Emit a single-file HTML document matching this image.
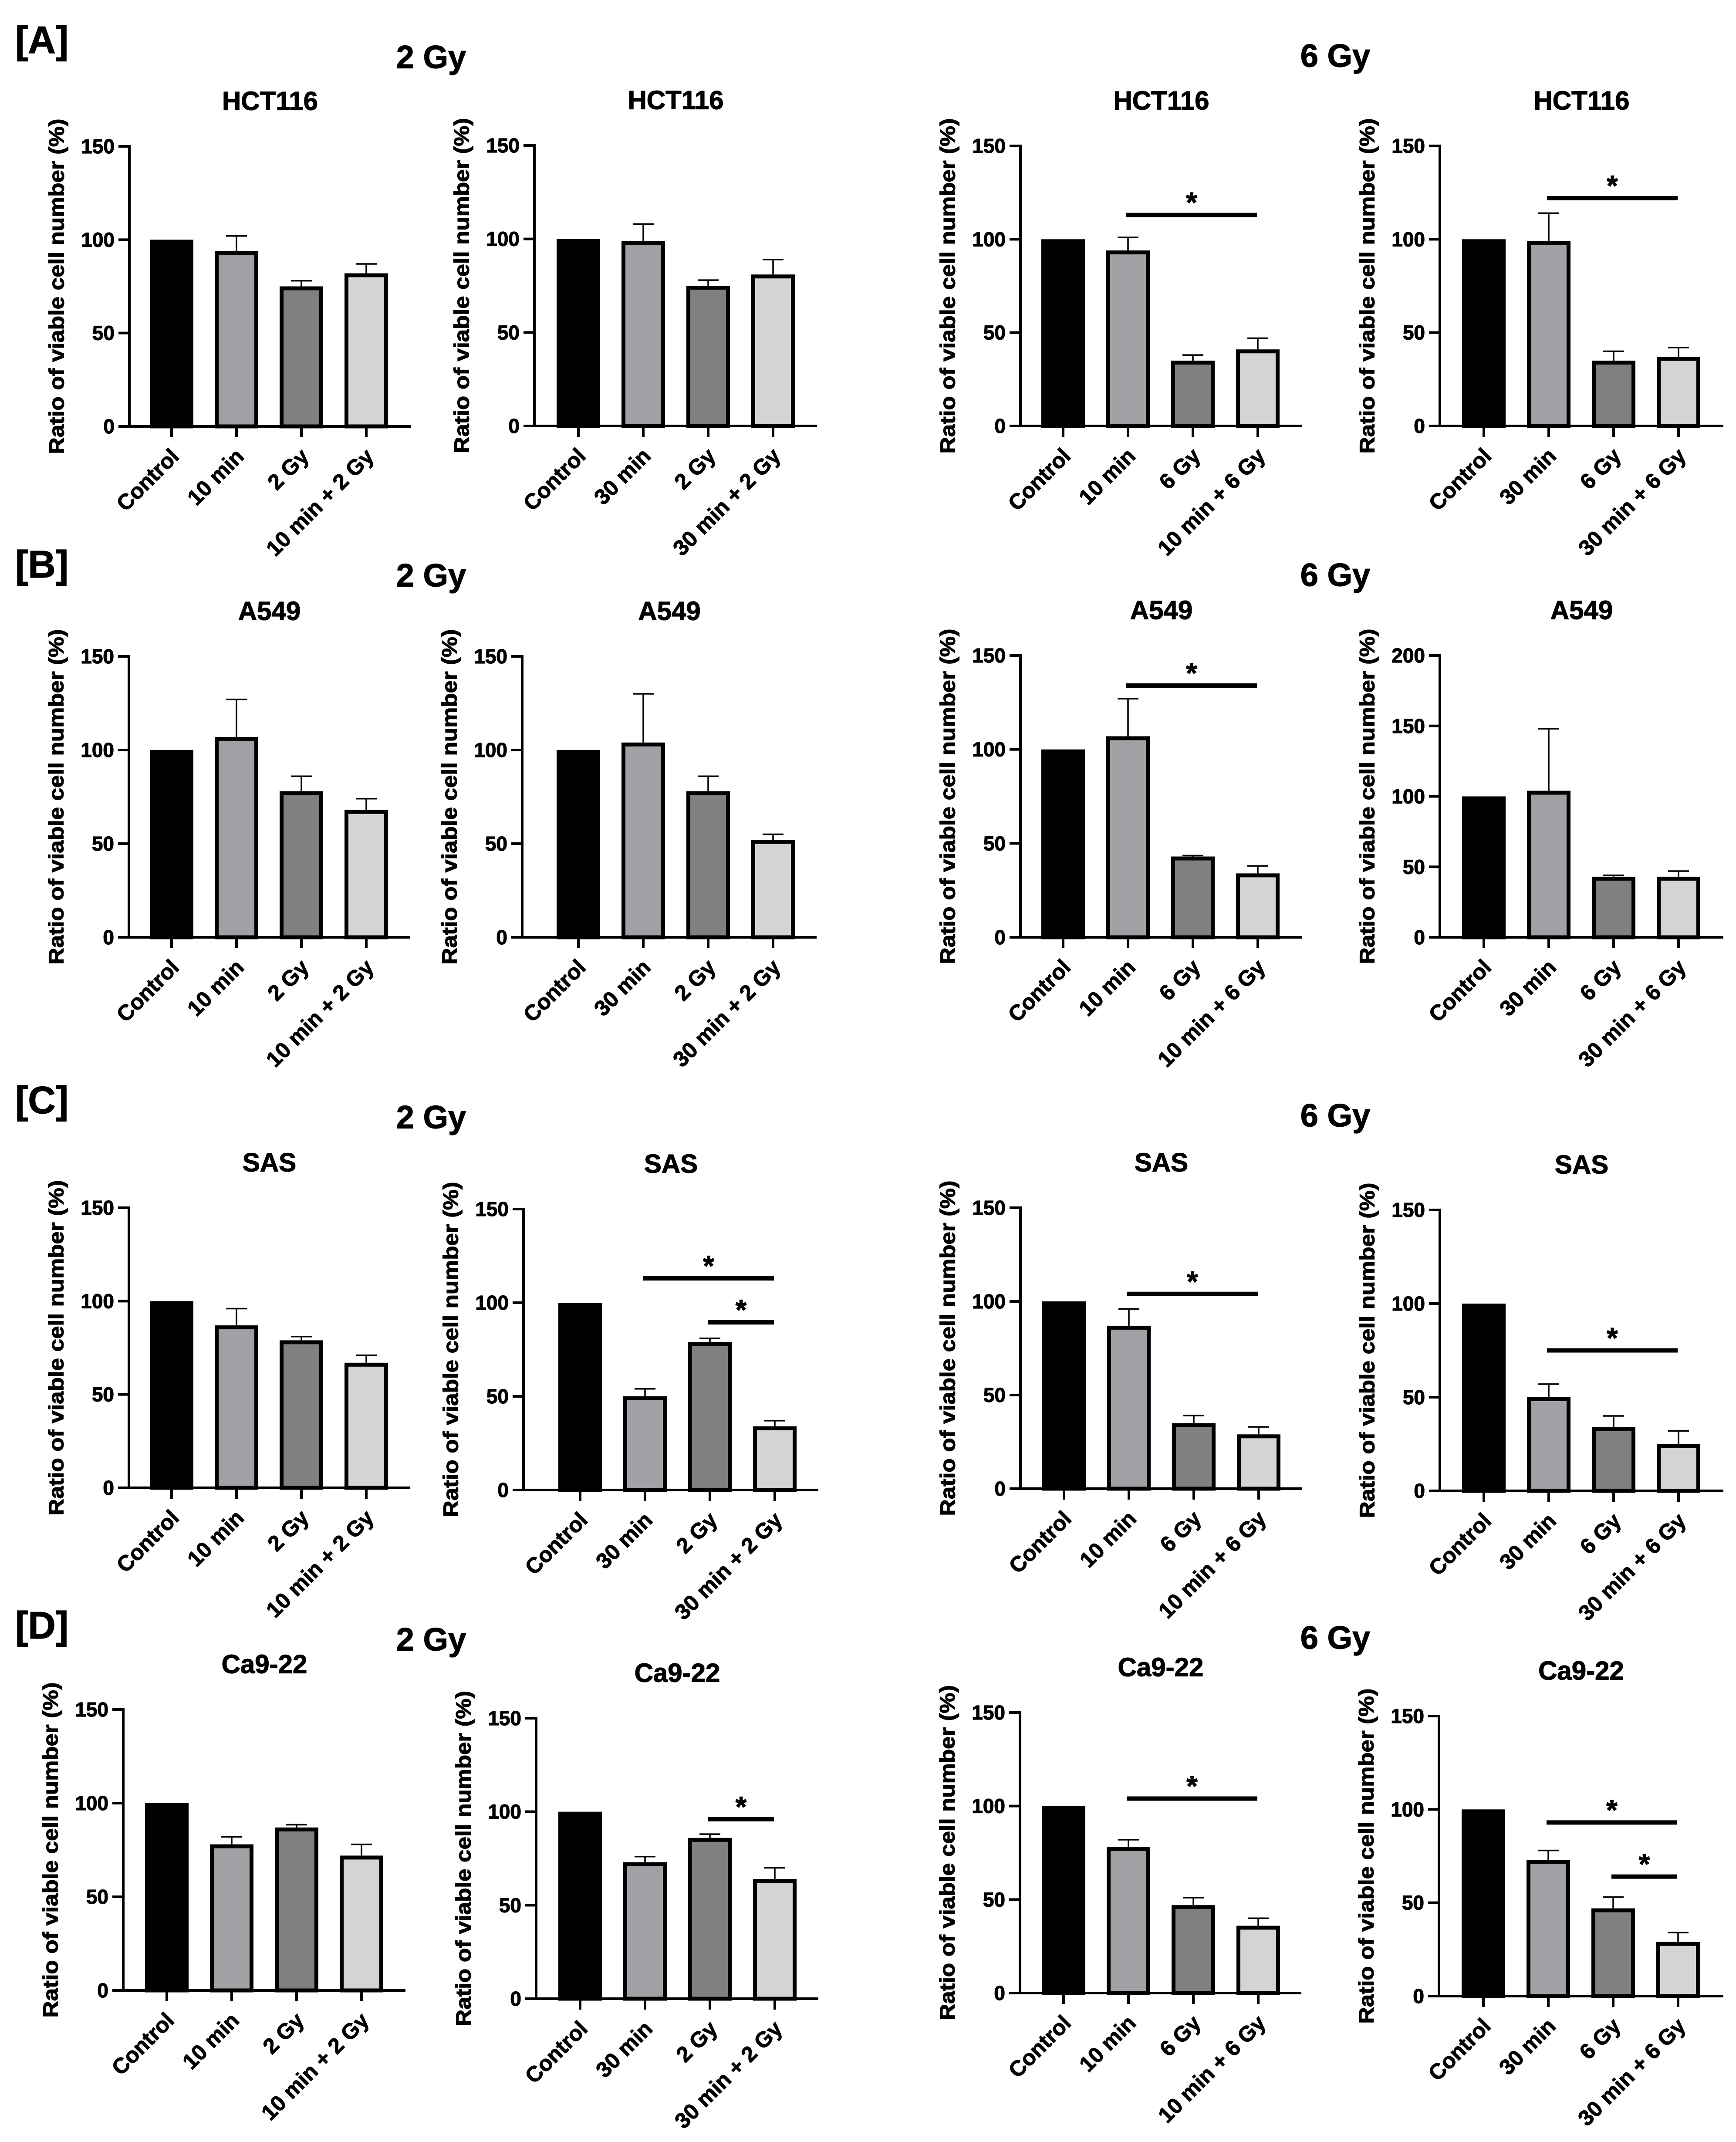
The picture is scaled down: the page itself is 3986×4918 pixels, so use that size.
<!DOCTYPE html>
<html><head><meta charset="utf-8"><style>
html,body{margin:0;padding:0;background:#fff;}
svg{display:block;font-family:"Liberation Sans",Arial,sans-serif;font-weight:bold;}
svg text{stroke:#000;stroke-width:1.2px;}
</style></head><body>
<svg id="fig" width="3986" height="4918" viewBox="0 0 3986 4918" xmlns="http://www.w3.org/2000/svg">
<rect width="3986" height="4918" fill="#fff"/>
</svg>
<script>
// ---- data ----
const cats10_2 = ["Control","10 min","2 Gy","10 min + 2 Gy"];
const cats30_2 = ["Control","30 min","2 Gy","30 min + 2 Gy"];
const cats10_6 = ["Control","10 min","6 Gy","10 min + 6 Gy"];
const cats30_6 = ["Control","30 min","6 Gy","30 min + 6 Gy"];
const ticks150 = [0,50,100,150];
const ticks200 = [0,50,100,150,200];

const meansA1 = [100,94,75,82];  const errsA1 = [0,8,3,5];
const meansA2 = [100,99,75,81];  const errsA2 = [0,9,3,8];
const meansA3 = [100,94,35,41];  const errsA3 = [0,7,3,6];
const meansA4 = [100,99,35,37];  const errsA4 = [0,15,5,5];
const meansB1 = [100,107,78,68]; const errsB1 = [0,20,8,6];
const meansB2 = [100,104,78,52]; const errsB2 = [0,26,8,3];
const meansB3 = [100,107,43,34]; const errsB3 = [0,20,0.5,4];
const meansB4 = [100,104,43,43]; const errsB4 = [0,44,1,4];
const meansC1 = [100,87,79,67];  const errsC1 = [0,9,2,4];
const meansC2 = [100,50,79,34];  const errsC2 = [0,4,2,3];
const meansC3 = [100,87,35,29];  const errsC3 = [0,9,4,4];
const meansC4 = [100,50,34,25];  const errsC4 = [0,7,6,7];
const meansD1 = [100,78,87,72];  const errsD1 = [0,4,1.5,6];
const meansD2 = [100,73,86,64];  const errsD2 = [0,3,2,6];
const meansD3 = [100,78,47,36];  const errsD3 = [0,4,4,4];
const meansD4 = [100,73,47,29];  const errsD4 = [0,5,6,5];

// significance brackets: [fromIndex, toIndex, yValue]
const sigA3 = [[1,3,113]];
const sigA4 = [[1,3,122]];
const sigB3 = [[1,3,134]];
const sigC2 = [[1,3,113],[2,3,89.5]];
const sigC3 = [[1,3,104]];
const sigC4 = [[1,3,75]];
const sigD2 = [[2,3,96]];
const sigD3 = [[1,3,104]];
const sigD4 = [[1,3,93],[2,3,64]];

const fills = ["#000000","#a1a1a5","#808080","#d4d4d4"];

// ---- layout ----
const panels = [
 {id:"a1",title:"HCT116",ax:297,c0:394,end:943,top:336,y0:979,ymax:150,ticks:ticks150,cats:cats10_2,m:meansA1,e:errsA1,s:[]},
 {id:"a2",title:"HCT116",ax:1227,c0:1328,end:1876,top:334,y0:978,ymax:150,ticks:ticks150,cats:cats30_2,m:meansA2,e:errsA2,s:[]},
 {id:"a3",title:"HCT116",ax:2343,c0:2441,end:2990,top:335,y0:978,ymax:150,ticks:ticks150,cats:cats10_6,m:meansA3,e:errsA3,s:sigA3},
 {id:"a4",title:"HCT116",ax:3306,c0:3407,end:3957,top:335,y0:978,ymax:150,ticks:ticks150,cats:cats30_6,m:meansA4,e:errsA4,s:sigA4},
 {id:"b1",title:"A549",ax:296,c0:394,end:941,top:1507,y0:2152,ymax:150,ticks:ticks150,cats:cats10_2,m:meansB1,e:errsB1,s:[]},
 {id:"b2",title:"A549",ax:1199,c0:1328,end:1875,top:1507,y0:2152,ymax:150,ticks:ticks150,cats:cats30_2,m:meansB2,e:errsB2,s:[]},
 {id:"b3",title:"A549",ax:2343,c0:2441,end:2990,top:1505,y0:2152,ymax:150,ticks:ticks150,cats:cats10_6,m:meansB3,e:errsB3,s:sigB3},
 {id:"b4",title:"A549",ax:3306,c0:3407,end:3957,top:1505,y0:2152,ymax:200,ticks:ticks200,cats:cats30_6,m:meansB4,e:errsB4,s:[]},
 {id:"c1",title:"SAS",ax:296,c0:394,end:941,top:2773,y0:3416,ymax:150,ticks:ticks150,cats:cats10_2,m:meansC1,e:errsC1,s:[]},
 {id:"c2",title:"SAS",ax:1202,c0:1332,end:1879,top:2776,y0:3421,ymax:150,ticks:ticks150,cats:cats30_2,m:meansC2,e:errsC2,s:sigC2},
 {id:"c3",title:"SAS",ax:2343,c0:2443,end:2990,top:2773,y0:3418,ymax:150,ticks:ticks150,cats:cats10_6,m:meansC3,e:errsC3,s:sigC3},
 {id:"c4",title:"SAS",ax:3306,c0:3407,end:3957,top:2778,y0:3423,ymax:150,ticks:ticks150,cats:cats30_6,m:meansC4,e:errsC4,s:sigC4},
 {id:"d1",title:"Ca9-22",ax:283,c0:383,end:931,top:3925,y0:4570,ymax:150,ticks:ticks150,cats:cats10_2,m:meansD1,e:errsD1,s:[]},
 {id:"d2",title:"Ca9-22",ax:1231,c0:1332,end:1879,top:3945,y0:4589,ymax:150,ticks:ticks150,cats:cats30_2,m:meansD2,e:errsD2,s:sigD2},
 {id:"d3",title:"Ca9-22",ax:2342,c0:2442,end:2988,top:3932,y0:4576,ymax:150,ticks:ticks150,cats:cats10_6,m:meansD3,e:errsD3,s:sigD3},
 {id:"d4",title:"Ca9-22",ax:3304,c0:3406,end:3957,top:3940,y0:4583,ymax:150,ticks:ticks150,cats:cats30_6,m:meansD4,e:errsD4,s:sigD4}
];
const sections = [
 {label:"[A]",lx:35,ly:122,g2y:131,g6y:128},
 {label:"[B]",lx:35,ly:1326,g2y:1321,g6y:1320},
 {label:"[C]",lx:35,ly:2556,g2y:2565,g6y:2561},
 {label:"[D]",lx:35,ly:3762,g2y:3764,g6y:3760}
];

const NS = "http://www.w3.org/2000/svg";
const svg = document.getElementById("fig");
function mk(tag, attrs, parent, text){
  const el = document.createElementNS(NS, tag);
  for (const k in attrs) el.setAttribute(k, attrs[k]);
  if (text !== undefined) el.textContent = text;
  (parent || svg).appendChild(el);
  return el;
}

sections.forEach(function(s){
  const t = mk("text",{x:s.lx,y:s.ly,"font-size":88},svg,s.label);
  
  
  const a = mk("text",{x:990,y:s.g2y,"font-size":74,"text-anchor":"middle","dominant-baseline":"central"},svg,"2 Gy");
  
  
  const b = mk("text",{x:3066,y:s.g6y,"font-size":74,"text-anchor":"middle","dominant-baseline":"central"},svg,"6 Gy");
  
  
});

panels.forEach(function(p){
  const g = mk("g",{});
  
  
  const ys = function(v){ return p.y0 - (v / p.ymax) * (p.y0 - p.top); };
  const xs = function(i){ return p.c0 + i * 149; };

  const title = mk("text",{x:(p.ax+p.end)/2,y:p.top-104,"font-size":60,"text-anchor":"middle","dominant-baseline":"central"},g,p.title);
  
  

  const yt = mk("text",{x:0,y:0,"font-size":48,"text-anchor":"middle","dominant-baseline":"central",
     transform:"translate("+(p.ax-166)+","+((p.top+p.y0)/2)+") rotate(-90)",textLength:770,lengthAdjust:"spacingAndGlyphs"},g,"Ratio of viable cell number (%)");
  
  

  const yaxis = mk("line",{x1:p.ax,y1:p.top-3,x2:p.ax,y2:p.y0+3,stroke:"#000","stroke-width":6},g);
  
  
  p.ticks.forEach(function(t){
    const y = ys(t);
    const tk = mk("line",{x1:p.ax-25,y1:y,x2:p.ax,y2:y,stroke:"#000","stroke-width":6},g);
    
    
    const tl = mk("text",{x:p.ax-34,y:y,"font-size":46,"text-anchor":"end","dominant-baseline":"central"},g,String(t));
    
    
  });
  const xaxis = mk("line",{x1:p.ax-25,y1:p.y0,x2:p.end,y2:p.y0,stroke:"#000","stroke-width":6},g);
  
  

  p.cats.forEach(function(c,i){
    const x = xs(i);
    const v = p.m[i], e = p.e[i];
    if (e > 0) {
      const eb = mk("line",{x1:x,y1:ys(v),x2:x,y2:ys(v+e),stroke:"#000","stroke-width":3.5},g);
      
      
      const cap = mk("line",{x1:x-24,y1:ys(v+e),x2:x+24,y2:ys(v+e),stroke:"#000","stroke-width":3.5},g);
      
      
    }
    const top = ys(v);
    const bar = mk("rect",{x:x-45.5,y:top+4.5,width:91,height:p.y0-top-4.5,fill:fills[i],stroke:"#000","stroke-width":9},g);
    
    
    const tk = mk("line",{x1:x,y1:p.y0,x2:x,y2:p.y0+25,stroke:"#000","stroke-width":6},g);
    
    
    const lx = x + 20, ly = p.y0 + 72;
    const lab = mk("text",{x:0,y:0,"font-size":50,"text-anchor":"end",transform:"translate("+lx+","+ly+") rotate(-45)"},g,c);
    
    
  });

  p.s.forEach(function(s){
    const y = ys(s[2]);
    const x1 = xs(s[0]) - 4, x2 = xs(s[1]) - 2;
    const ln = mk("line",{x1:x1,y1:y,x2:x2,y2:y,stroke:"#000","stroke-width":10},g);
    
    
    const st = mk("text",{x:(x1+x2)/2,y:y-6,"font-size":66,"text-anchor":"middle"},g,"*");
    
    
  });
});
</script>
</body></html>
